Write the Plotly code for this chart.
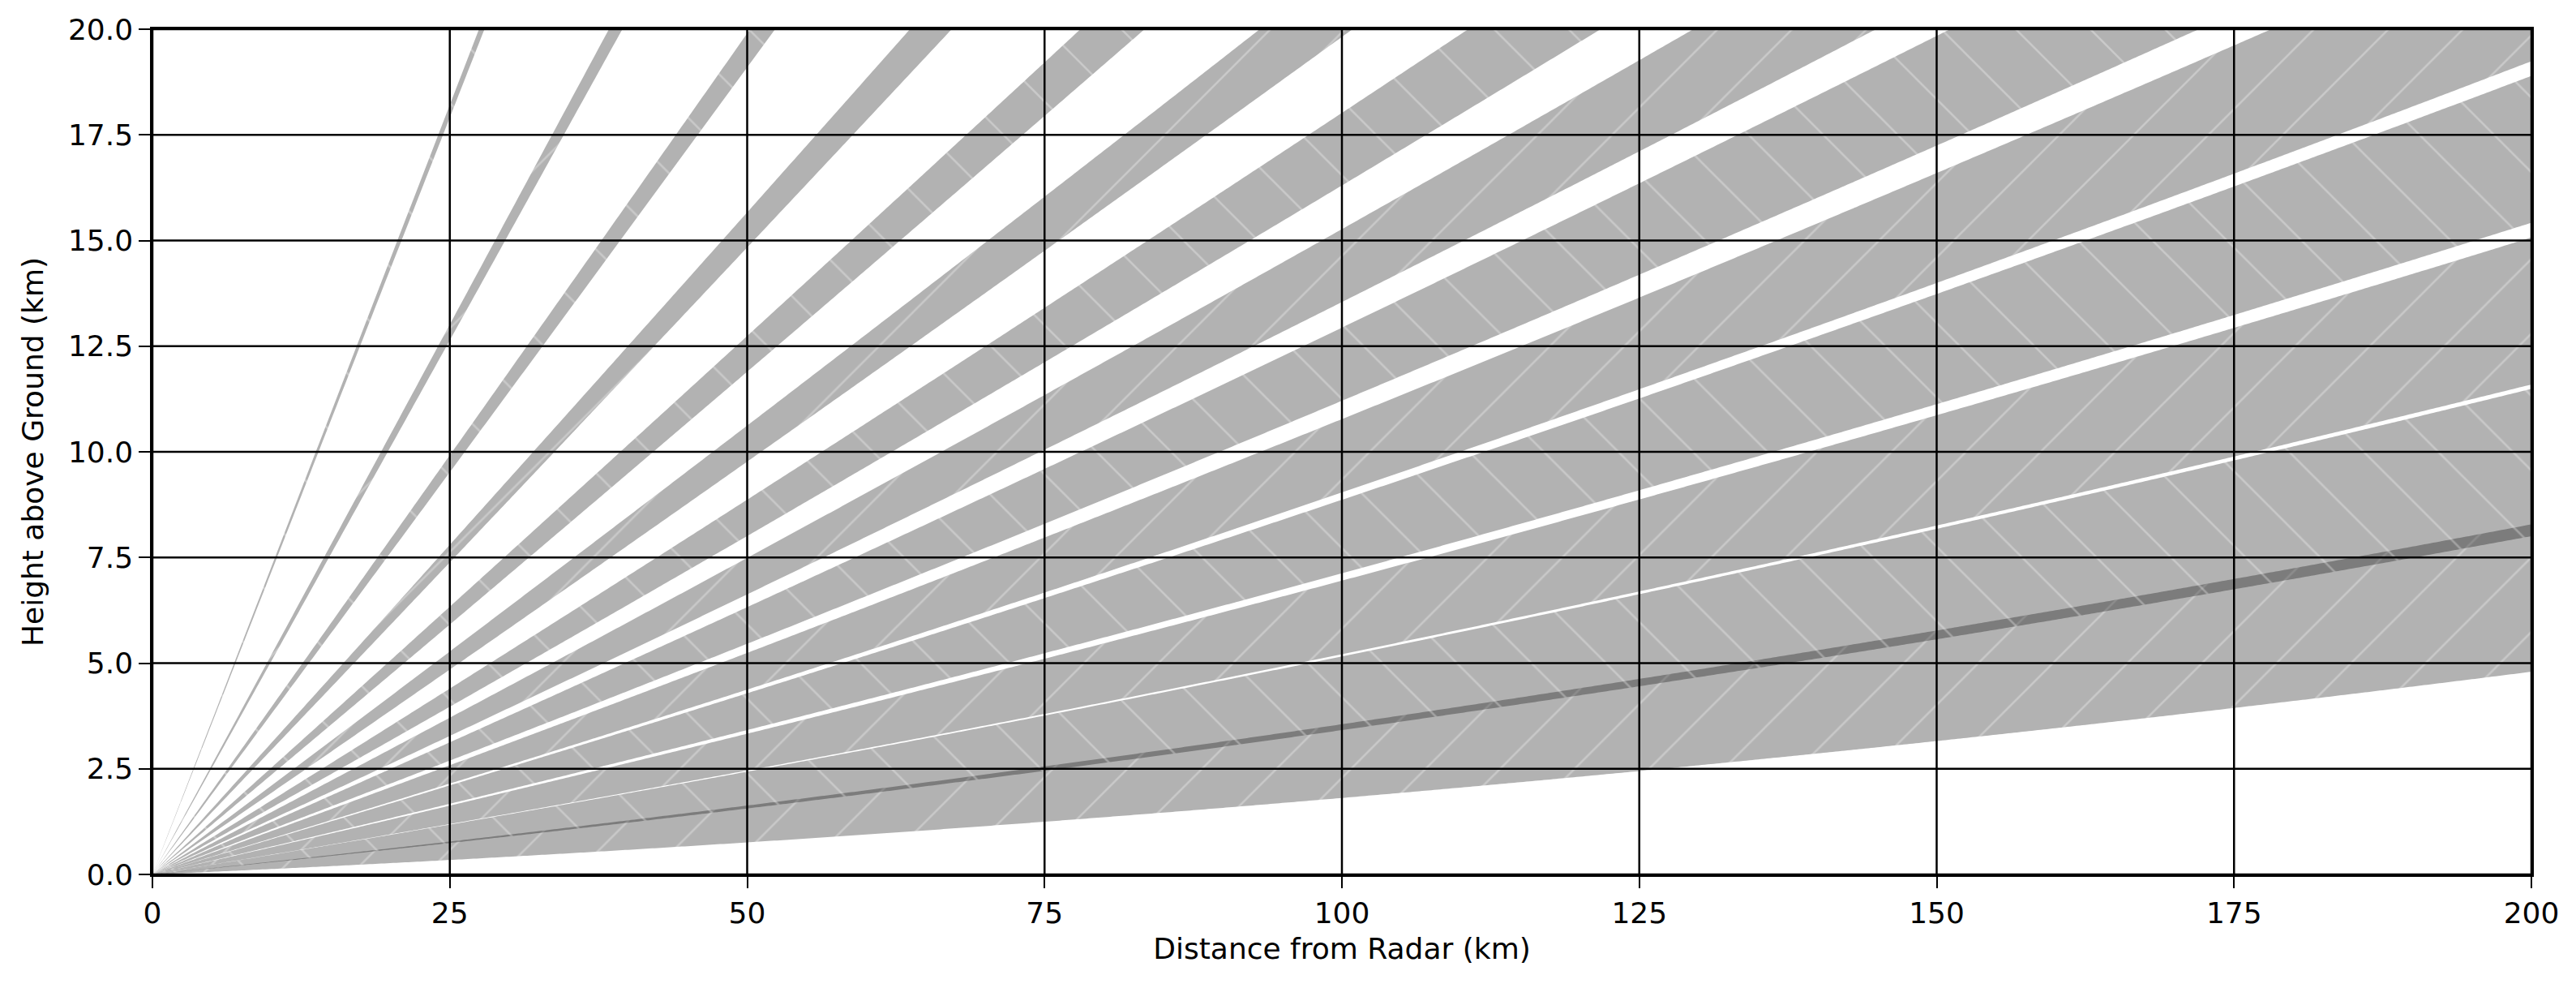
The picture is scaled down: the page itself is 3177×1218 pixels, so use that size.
import numpy as np
import plotly.graph_objects as go

elevations = [1.2, 2.12, 3.15, 4.25, 5.35, 6.6, 7.95, 9.55, 11.6, 14.1, 17.6, 22.8, 30.8, 46.2]
beamwidth = 1.0
hatches = ['/', '\\']

x_ticks = [0, 25, 50, 75, 100, 125, 150, 175, 200]
y_ticks = [0.0, 2.5, 5.0, 7.5, 10.0, 12.5, 15.0, 17.5, 20.0]

EARTH_R = 6371.0 * 4.0 / 3.0
ranges = np.linspace(0, 260, 1041)


def beam_height(r, elev_deg):
    el = np.radians(elev_deg)
    return np.sqrt(r ** 2 + EARTH_R ** 2 + 2 * r * EARTH_R * np.sin(el)) - EARTH_R


fig = go.Figure()

for i, el in enumerate(elevations):
    low = beam_height(ranges, el - beamwidth / 2)
    high = beam_height(ranges, el + beamwidth / 2)
    fig.add_trace(go.Scatter(
        x=np.concatenate([ranges, ranges[::-1]]),
        y=np.concatenate([low, high[::-1]]),
        mode='none',
        fill='toself',
        fillcolor='rgba(0,0,0,0.3)',
        fillpattern=dict(
            shape=hatches[i % 2],
            size=65,
            solidity=0.04,
            bgcolor='rgba(0,0,0,0.3)',
            fgcolor='rgba(255,255,255,0.6)',
        ),
        hoverinfo='skip',
        showlegend=False,
    ))

# grid drawn over the beams, like the original
for v in x_ticks:
    fig.add_vline(x=v, line_color='black', line_width=2.5, layer='above')
for v in y_ticks:
    fig.add_hline(y=v, line_color='black', line_width=2.5, layer='above')

axis_font = dict(family='DejaVu Sans', size=36, color='black')

# page body has an 8px margin, keep the figure inside the window
fig.update_layout(
    width=3161,
    height=1202,
    paper_bgcolor='white',
    plot_bgcolor='white',
    margin=dict(l=180, r=47, t=28, b=132, autoexpand=False),
    font=axis_font,
    xaxis=dict(
        range=[0, 200],
        tickvals=x_ticks,
        ticks='outside',
        ticklen=14,
        tickwidth=2,
        tickcolor='black',
        tickfont=axis_font,
        showgrid=False,
        zeroline=False,
        showline=True,
        mirror=True,
        linecolor='black',
        linewidth=2.5,
        title=dict(text='Distance from Radar (km)', font=axis_font, standoff=12),
    ),
    yaxis=dict(
        range=[0, 20],
        tickvals=y_ticks,
        tickformat='.1f',
        ticks='outside',
        ticklen=14,
        tickwidth=2,
        tickcolor='black',
        tickfont=axis_font,
        showgrid=False,
        zeroline=False,
        showline=True,
        mirror=True,
        linecolor='black',
        linewidth=2.5,
        title=dict(text='Height above Ground (km)', font=axis_font, standoff=20),
    ),
)

fig.write_html("out.html")
